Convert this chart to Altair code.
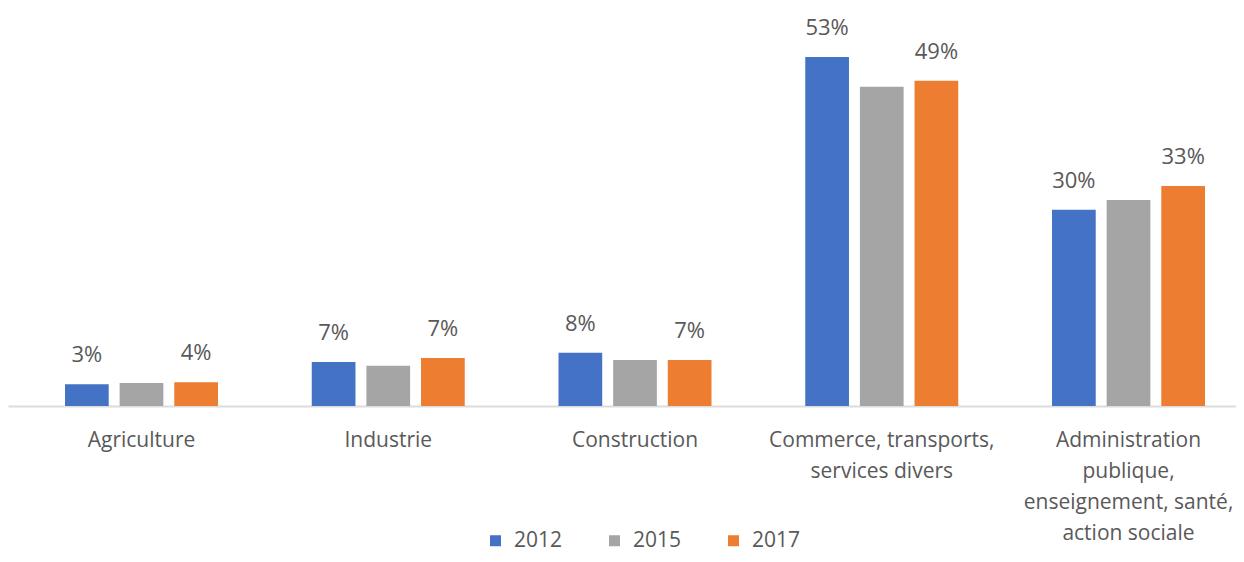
import altair as alt
import pandas as pd

categories = [
    "Agriculture",
    "Industrie",
    "Construction",
    "Commerce, transports,|services divers",
    "Administration|publique,|enseignement, santé,|action sociale",
]
years = ["2012", "2015", "2017"]
values_2012 = [0.033, 0.067, 0.081, 0.530, 0.298]
values_2015 = [0.035, 0.061, 0.070, 0.485, 0.313]
values_2017 = [0.036, 0.073, 0.070, 0.494, 0.334]
colors = ["#4472C4", "#A5A5A5", "#ED7D31"]
labelled_years = ["2012", "2017"]

rows = []
for yr, vals in zip(years, [values_2012, values_2015, values_2017]):
    for c, v in zip(categories, vals):
        rows.append({"cat": c, "year": yr, "value": v})
df = pd.DataFrame(rows)

FONT = "Open Sans"
GRAY = "#595959"

x = alt.X(
    "cat:N",
    sort=categories,
    scale=alt.Scale(range=[0, 1254], paddingInner=0.38, paddingOuter=0.231),
    axis=alt.Axis(
        title=None,
        labelExpr="split(datum.label, '|')",
        labelAngle=0,
        ticks=False,
        domainColor="#DCDCDC",
        domainWidth=2,
        labelFontSize=21,
        labelColor=GRAY,
        labelFont=FONT,
        labelLineHeight=31,
        labelPadding=23,
        labelLimit=0,
    ),
)
xo = alt.XOffset("year:N", sort=years, scale=alt.Scale(paddingInner=0.2, paddingOuter=0))
y = alt.Y("value:Q", scale=alt.Scale(domain=[0, 0.6]), axis=None)

base = alt.Chart(df)

bars = base.mark_bar().encode(
    x=x,
    xOffset=xo,
    y=y,
    color=alt.Color(
        "year:N",
        sort=years,
        scale=alt.Scale(domain=years, range=colors),
        legend=alt.Legend(
            title=None,
            orient="none",
            direction="horizontal",
            legendX=477,
            legendY=519,
            symbolType="square",
            symbolSize=121,
            symbolStrokeWidth=0,
            labelFontSize=21,
            labelColor=GRAY,
            labelFont=FONT,
            columnPadding=41,
            labelOffset=8,
        ),
    ),
)

text = base.transform_filter(
    alt.FieldOneOfPredicate(field="year", oneOf=labelled_years)
).mark_text(
    baseline="alphabetic", dy=-22, fontSize=22, font=FONT, color=GRAY
).encode(
    x=x,
    xOffset=xo,
    y=y,
    text=alt.Text("value:Q", format=".0%"),
)

chart = (
    alt.layer(bars, text)
    .properties(
        width=1228,
        height=395,
        padding={"left": 0, "top": 3, "right": 0, "bottom": 148},
        autosize=alt.AutoSizeParams(type="none"),
    )
    .configure(background="white", view=alt.ViewConfig(strokeWidth=0, stroke="transparent"))
)

chart.save("out.html", embed_options={"renderer": "svg", "actions": False})
